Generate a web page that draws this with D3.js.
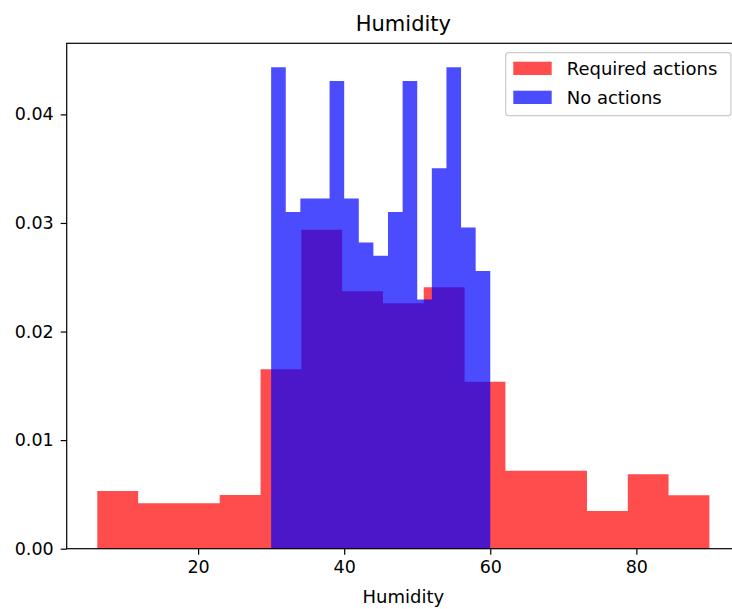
<html lang="en_US">
<head>
    <title>Humidity</title>
    <script type="text/javascript" src="https://cdn.jsdelivr.net/npm/d3@7"></script>
    <style>
        body { margin: 0; background: #fff; }
        text { font-family: "DejaVu Sans", sans-serif; fill: #000; }
    </style>
</head>
<body>
<div id="chart"></div>
<script type="text/javascript">
    // histogram bin edges and densities
    const redEdges = [6.2, 11.79, 17.37, 22.96, 28.55, 34.13, 39.72, 45.31, 50.89, 56.48, 62.07, 67.65, 73.24, 78.83, 84.41, 90.0];
    const redValues = [0.00531, 0.00418, 0.00418, 0.00494, 0.01652, 0.02938, 0.0237, 0.0226, 0.02407, 0.01538, 0.00718, 0.00718, 0.00347, 0.00685, 0.00492];

    const blueEdges = [30, 32, 34, 36, 38, 40, 42, 44, 46, 48, 50, 52, 54, 56, 58, 60];
    const blueValues = [0.04433, 0.0310, 0.03226, 0.03226, 0.04307, 0.03226, 0.02821, 0.02698, 0.0310, 0.04307, 0.02296, 0.03503, 0.04433, 0.02959, 0.02557];

    const xTicks = [20, 40, 60, 80];
    const yTicks = [0, 0.01, 0.02, 0.03, 0.04];
    const seriesNames = ["Required actions", "No actions"];
    const seriesColors = ["#ff0000", "#0000ff"];

    const W = 732, H = 609;
    const plot = {left: 66.7, right: 740, top: 43.3, bottom: 548.7};

    const svg = d3.select("#chart").append("svg")
        .attr("width", W).attr("height", H);

    // matplotlib style 5% margins
    const allEdges = redEdges.concat(blueEdges);
    const xMin = d3.min(allEdges), xMax = d3.max(allEdges);
    const pad = (xMax - xMin) * 0.05;
    const x = d3.scaleLinear().domain([xMin - pad, xMax + pad]).range([plot.left, plot.right]);
    const yMax = d3.max(redValues.concat(blueValues)) * 1.05;
    const y = d3.scaleLinear().domain([0, yMax]).range([plot.bottom, plot.top]);

    // one outline per series (stepfilled look, no seams between bars)
    const histPath = (edges, values) => {
        const p = d3.path();
        p.moveTo(x(edges[0]), y(0));
        values.forEach((v, i) => {
            p.lineTo(x(edges[i]), y(v));
            p.lineTo(x(edges[i + 1]), y(v));
        });
        p.lineTo(x(edges[edges.length - 1]), y(0));
        p.closePath();
        return p.toString();
    };

    [[redEdges, redValues], [blueEdges, blueValues]].forEach((s, k) => {
        svg.append("path")
            .attr("d", histPath(s[0], s[1]))
            .attr("fill", seriesColors[k])
            .attr("fill-opacity", 0.7);
    });

    // axes
    const xAxis = svg.append("g")
        .attr("transform", "translate(0," + plot.bottom + ")")
        .call(d3.axisBottom(x).tickValues(xTicks).tickFormat(d3.format("d")).tickSize(6).tickPadding(6).tickSizeOuter(0));
    xAxis.select(".domain").remove();
    xAxis.selectAll("line").attr("stroke", "#000").attr("stroke-width", 1.2);
    xAxis.selectAll("text").style("font-size", "17.5px").attr("dy", "0.72em");

    const yAxis = svg.append("g")
        .attr("transform", "translate(" + plot.left + ",0)")
        .call(d3.axisLeft(y).tickValues(yTicks).tickFormat(d3.format(".2f")).tickSize(6).tickPadding(7).tickSizeOuter(0));
    yAxis.select(".domain").remove();
    yAxis.selectAll("line").attr("stroke", "#000").attr("stroke-width", 1.2);
    yAxis.selectAll("text").style("font-size", "17.5px");

    // frame
    svg.append("rect")
        .attr("x", plot.left).attr("y", plot.top)
        .attr("width", plot.right - plot.left).attr("height", plot.bottom - plot.top)
        .attr("fill", "none").attr("stroke", "#000").attr("stroke-width", 1.2);

    // title and axis label
    svg.append("text")
        .attr("x", (plot.left + plot.right) / 2).attr("y", 31)
        .attr("text-anchor", "middle")
        .style("font-size", "21px")
        .text("Humidity");

    svg.append("text")
        .attr("x", (plot.left + plot.right) / 2).attr("y", 602.5)
        .attr("text-anchor", "middle")
        .style("font-size", "18px")
        .text("Humidity");

    // legend
    const lg = svg.append("g");
    lg.append("rect")
        .attr("x", 505.7).attr("y", 52.7)
        .attr("width", 225.3).attr("height", 63)
        .attr("rx", 3)
        .attr("fill", "#fff").attr("fill-opacity", 0.8)
        .attr("stroke", "#cccccc").attr("stroke-width", 1.2);

    seriesNames.forEach((name, i) => {
        lg.append("rect")
            .attr("x", 513.3).attr("y", 61.7 + i * 29)
            .attr("width", 38.4).attr("height", 13.3)
            .attr("fill", seriesColors[i]).attr("fill-opacity", 0.7);
        lg.append("text")
            .attr("x", 566.7).attr("y", 75 + i * 28.5)
            .style("font-size", "18px")
            .text(name);
    });
</script>
</body>
</html>
